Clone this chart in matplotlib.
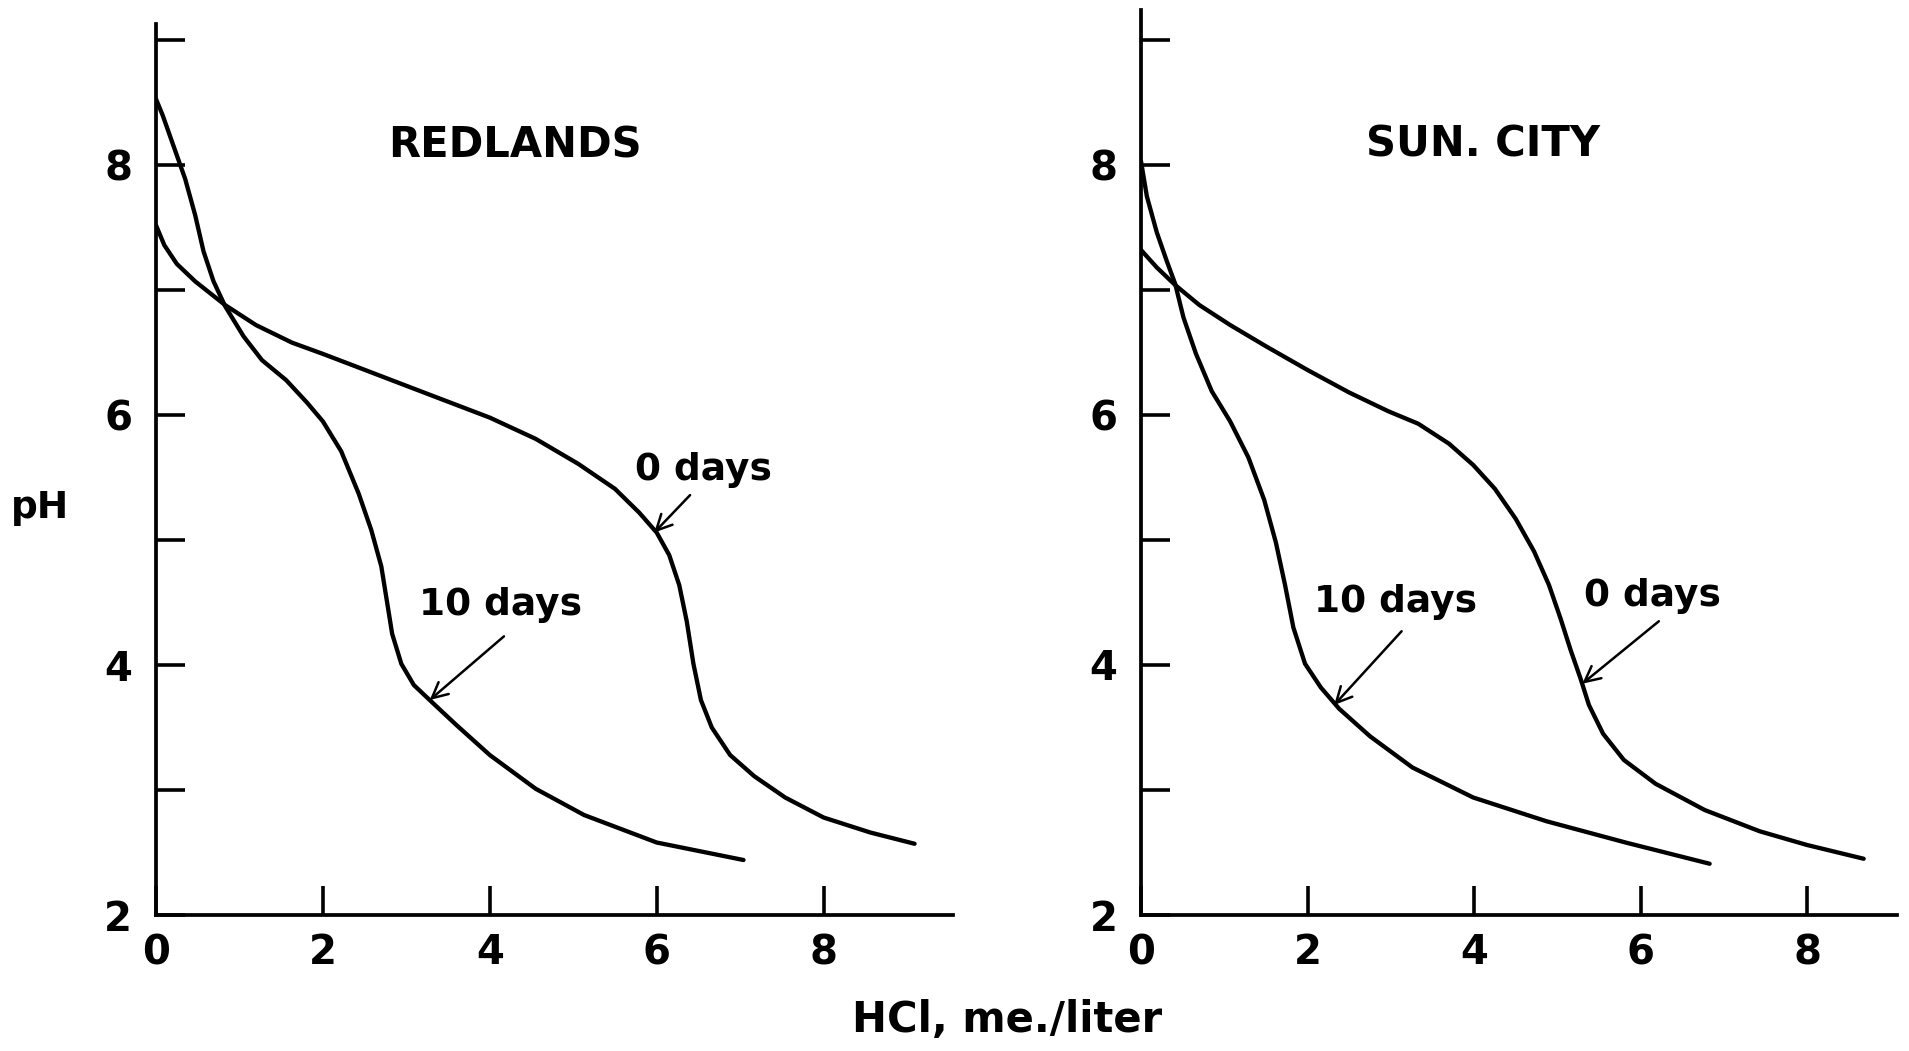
import matplotlib
matplotlib.use("Agg")
import matplotlib.pyplot as plt

# ---- data: pH titration curves (HCl added, me./liter) ----
red_0d_x = [0, 0.1, 0.25, 0.47, 0.83, 1.2, 1.63, 2.0, 2.51, 2.94, 3.45, 4.0, 4.55, 5.06,
            5.5, 5.79, 6.0, 6.15, 6.27, 6.36, 6.44, 6.53, 6.66, 6.88, 7.17, 7.54, 8.0, 8.56, 9.09]
red_0d_y = [7.52, 7.36, 7.21, 7.07, 6.88, 6.72, 6.58, 6.49, 6.36, 6.25, 6.12, 5.98, 5.81, 5.61,
            5.41, 5.22, 5.06, 4.88, 4.64, 4.35, 4.01, 3.72, 3.5, 3.28, 3.11, 2.94, 2.78, 2.66, 2.57]

red_10d_x = [0, 0.08, 0.17, 0.26, 0.35, 0.47, 0.57, 0.69, 0.83, 1.05, 1.27, 1.56, 1.81, 2.0,
             2.22, 2.43, 2.58, 2.7, 2.77, 2.83, 2.94, 3.09, 3.28, 3.6, 4.0, 4.55, 5.13, 6.0, 7.04]
red_10d_y = [8.53, 8.40, 8.23, 8.06, 7.89, 7.6, 7.31, 7.07, 6.87, 6.63, 6.44, 6.28, 6.1, 5.95,
             5.71, 5.37, 5.08, 4.79, 4.5, 4.25, 4.01, 3.84, 3.72, 3.52, 3.28, 3.01, 2.8, 2.58, 2.44]

sun_0d_x = [0, 0.19, 0.41, 0.7, 1.07, 1.5, 2.0, 2.5, 2.97, 3.33, 3.7, 3.99, 4.25, 4.5,
            4.72, 4.9, 5.04, 5.16, 5.28, 5.38, 5.55, 5.8, 6.18, 6.77, 7.43, 8.0, 8.68]
sun_0d_y = [7.32, 7.18, 7.04, 6.88, 6.72, 6.55, 6.36, 6.18, 6.03, 5.93, 5.77, 5.6, 5.41, 5.17,
            4.91, 4.64, 4.37, 4.12, 3.89, 3.68, 3.45, 3.24, 3.05, 2.84, 2.67, 2.56, 2.45]

sun_10d_x = [0, 0.07, 0.19, 0.31, 0.41, 0.51, 0.66, 0.85, 1.07, 1.29, 1.48, 1.62, 1.73, 1.83,
             1.97, 2.16, 2.38, 2.75, 3.26, 3.99, 4.87, 5.82, 6.83]
sun_10d_y = [8.03, 7.75, 7.46, 7.23, 7.05, 6.78, 6.49, 6.19, 5.95, 5.66, 5.32, 4.98, 4.64, 4.3,
             4.01, 3.82, 3.65, 3.43, 3.18, 2.94, 2.75, 2.58, 2.41]

panel_titles = ["REDLANDS", "SUN. CITY"]
curve_labels = ["0 days", "10 days"]
x_ticks = [0, 2, 4, 6, 8]
y_ticks = [2, 3, 4, 5, 6, 7, 8, 9]
y_ticklabels = ["2", "", "4", "", "6", "", "8", ""]

# label positions (text centre, arrow tail, arrow tip) in data units
red_labels = [((6.56, 5.56), (6.40, 5.36), (5.97, 5.06)),
              ((4.13, 4.48), (4.17, 4.23), (3.28, 3.72))]
sun_labels = [((6.14, 4.55), (6.22, 4.35), (5.30, 3.85)),
              ((3.06, 4.50), (3.13, 4.27), (2.32, 3.68))]

FONT = "DejaVu Sans"
plt.rcParams["font.family"] = [FONT]

fig = plt.figure(figsize=(19.09, 10.51), dpi=100)
ax1 = fig.add_axes([0.0817, 0.1294, 0.4175, 0.8478])
ax2 = fig.add_axes([0.5977, 0.1294, 0.3960, 0.8611])

panels = [
    (ax1, (0, 9.55), (2, 9.13), red_0d_x, red_0d_y, red_10d_x, red_10d_y, red_labels, (4.3, 8.16)),
    (ax2, (0, 9.08), (2, 9.24), sun_0d_x, sun_0d_y, sun_10d_x, sun_10d_y, sun_labels, (4.11, 8.16)),
]

for i, (ax, xl, yl, x0, y0, x10, y10, labs, tpos) in enumerate(panels):
    ax.plot(x0, y0, color="black", lw=3.1, solid_capstyle="round", solid_joinstyle="round")
    ax.plot(x10, y10, color="black", lw=3.1, solid_capstyle="round", solid_joinstyle="round")
    ax.set_xlim(*xl)
    ax.set_ylim(*yl)
    for s in ("top", "right"):
        ax.spines[s].set_visible(False)
    for s in ("left", "bottom"):
        ax.spines[s].set_linewidth(2.7)
    ax.set_xticks(x_ticks)
    ax.set_yticks(y_ticks)
    ax.set_yticklabels(y_ticklabels)
    ax.tick_params(axis="both", direction="in", length=21, width=2.6,
                   labelsize=29)
    ax.tick_params(axis="y", pad=17)
    ax.tick_params(axis="x", pad=13)
    for lab in ax.get_xticklabels() + ax.get_yticklabels():
        lab.set_fontweight("bold")
    ax.text(tpos[0], tpos[1], panel_titles[i], fontsize=30, fontweight="bold",
            ha="center", va="center")
    for (tc, tail, tip), txt in zip(labs, curve_labels):
        ax.text(tc[0], tc[1], txt, fontsize=27, fontweight="bold", ha="center", va="center")
        ax.annotate("", xy=tip, xytext=tail,
                    arrowprops=dict(arrowstyle="->", lw=1.8, color="black",
                                    mutation_scale=28, shrinkA=0, shrinkB=0))
    ax.patch.set_visible(False)

fig.text(0.021, 0.517, "pH", fontsize=27, fontweight="bold", ha="center", va="center")
fig.text(0.5275, 0.0295, "HCl, me./liter", fontsize=30, fontweight="bold",
         ha="center", va="center")

fig.savefig("out.png", dpi=100, facecolor="white")
